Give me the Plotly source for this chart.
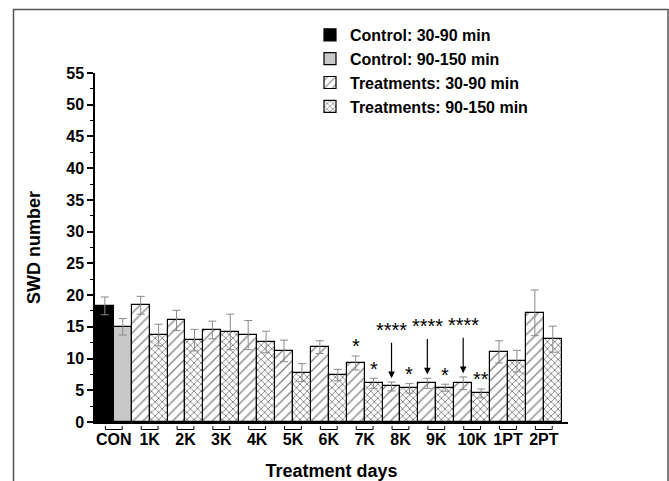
import plotly.graph_objects as go

groups = ["CON", "1K", "2K", "3K", "4K", "5K", "6K", "7K", "8K", "9K", "10K", "1PT", "2PT"]
early = [18.3, 18.4, 16.0, 14.5, 13.7, 11.2, 11.8, 9.3, 5.6, 6.1, 6.1, 11.05, 17.2]
early_err = [1.4, 1.4, 1.6, 1.4, 2.3, 1.7, 1.0, 1.1, 0.7, 0.8, 1.0, 1.75, 3.6]
late = [15.0, 13.7, 12.9, 14.2, 12.6, 7.8, 7.4, 6.1, 5.3, 5.4, 4.5, 9.6, 13.05]
late_err = [1.3, 1.7, 1.7, 2.8, 1.7, 1.4, 0.9, 0.8, 0.75, 0.55, 0.7, 1.7, 2.05]
sig_early = ["", "", "", "", "", "", "", "*", "****", "****", "****", "", ""]
sig_late = ["", "", "", "", "", "", "", "*", "*", "*", "**", "", ""]
y_ticks = list(range(0, 56, 5))

FONT = "Liberation Sans, Arial, sans-serif"
x_early = [2 * i for i in range(len(groups))]
x_late = [2 * i + 1 for i in range(len(groups))]

fig = go.Figure()
err_style = dict(type="data", color="#8a8a8a", thickness=1, width=4)
line_style = dict(color="black", width=1.2)

fig.add_trace(go.Bar(x=x_early[:1], y=early[:1], width=1, name="Control: 30-90 min",
                     marker=dict(color="black", line=line_style),
                     error_y=dict(array=early_err[:1], **err_style)))
fig.add_trace(go.Bar(x=x_late[:1], y=late[:1], width=1, name="Control: 90-150 min",
                     marker=dict(color="#c8c8c8", line=line_style),
                     error_y=dict(array=late_err[:1], **err_style)))
fig.add_trace(go.Bar(x=x_early[1:], y=early[1:], width=1, name="Treatments: 30-90 min",
                     marker=dict(color="white", line=line_style,
                                 pattern=dict(shape="/", fgcolor="black", bgcolor="white",
                                              size=7, solidity=0.18)),
                     error_y=dict(array=early_err[1:], **err_style)))
fig.add_trace(go.Bar(x=x_late[1:], y=late[1:], width=1, name="Treatments: 90-150 min",
                     marker=dict(color="white", line=line_style,
                                 pattern=dict(shape="x", fgcolor="black", bgcolor="white",
                                              size=5, solidity=0.32)),
                     error_y=dict(array=late_err[1:], **err_style)))

annotations = []
for xs, vals, errs, sigs in [(x_early, early, early_err, sig_early),
                             (x_late, late, late_err, sig_late)]:
    for x, v, e, s in zip(xs, vals, errs, sigs):
        if not s:
            continue
        top = v + e
        if s == "****":
            annotations.append(dict(x=x, y=top + 0.6, xref="x", yref="y", text=s,
                                    showarrow=True, arrowhead=2, arrowsize=1.1,
                                    arrowwidth=1.2, arrowcolor="black", ax=0, ay=-48,
                                    font=dict(family=FONT, size=20, color="black")))
        else:
            annotations.append(dict(x=x, y=top + 1.5, xref="x", yref="y", text=s,
                                    showarrow=False, yanchor="middle",
                                    font=dict(family=FONT, size=20, color="black")))

shapes = []
for i in range(len(groups)):
    c = 2 * i + 0.5
    shapes.append(dict(type="path", xref="x", yref="paper",
                       path=f"M {c-0.47},-0.0115 L {c-0.47},-0.0215 L {c+0.47},-0.0215 L {c+0.47},-0.0115",
                       line=dict(color="black", width=1)))
shapes.append(dict(type="rect", xref="paper", yref="paper",
                   x0=(13.5 - 95) / 473, x1=(668 - 95) / 473,
                   y0=(422 - 500) / 349, y1=(422 - 9.5) / 349,
                   line=dict(color="#555555", width=1.5), layer="below"))

fig.update_layout(
    width=669, height=481,
    margin=dict(l=95, r=101, t=73, b=59, autoexpand=False),
    plot_bgcolor="white", paper_bgcolor="white",
    barmode="overlay", bargap=0,
    font=dict(family=FONT, color="black"),
    showlegend=True,
    legend=dict(x=(310 - 95) / 473, y=(422 - 18) / 349, xanchor="left", yanchor="top",
                bgcolor="rgba(0,0,0,0)", tracegroupgap=0,
                font=dict(family=FONT, size=16, weight="bold", color="black")),
    annotations=annotations,
    shapes=shapes,
)
fig.update_xaxes(range=[-0.55, 25.85], tickvals=[2 * i + 0.5 for i in range(len(groups))],
                 ticktext=groups, ticks="", showline=True, linecolor="black", linewidth=1.5,
                 showgrid=False, zeroline=False, ticklabelstandoff=2,
                 tickfont=dict(family=FONT, size=16, weight="bold", color="black"),
                 title=dict(text="Treatment days", standoff=17,
                            font=dict(family=FONT, size=18, weight="bold", color="black")))
fig.update_yaxes(range=[0, 55], tickvals=y_ticks, ticks="outside", ticklen=6, tickwidth=1.5,
                 tickcolor="black", showline=True, linecolor="black", linewidth=1.5,
                 showgrid=False, zeroline=False,
                 minor=dict(dtick=2.5, ticks="outside", ticklen=3, tickwidth=1.2, tickcolor="black"),
                 tickfont=dict(family=FONT, size=16, weight="bold", color="black"),
                 title=dict(text="SWD number", standoff=21,
                            font=dict(family=FONT, size=18, weight="bold", color="black")))

fig.write_html("out.html", config={"displayModeBar": False},
               post_script="document.body.style.margin='0px';")
